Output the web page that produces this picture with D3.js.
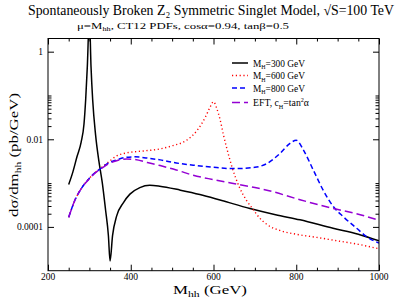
<!DOCTYPE html>
<html><head><meta charset="utf-8">
<script src="https://cdn.jsdelivr.net/npm/d3@7"></script>
<style>body{margin:0;background:#fff}svg{display:block}</style>
</head><body><svg id="c" width="399" height="300"></svg>
<script>
// ---- data ----
const massH300 = [250,260,270,280,287,291,295,300,304,308,315,323,331,339,346,350,356,366,382,398,422,446,470,520,567,620,688,750,809,889,950,1000];
const sigH300  = [9.3e-4,1.78e-3,3.98e-3,8.5e-3,2.24e-2,7.9e-2,0.45,6.3,0.45,7.9e-2,1.26e-2,3.16e-3,1.05e-3,2.5e-4,6.3e-5,1.66e-5,6.3e-5,1.78e-4,3.55e-4,5.6e-4,7.9e-4,8.9e-4,8.5e-4,6.9e-4,5.5e-4,4.0e-4,2.63e-4,1.9e-4,1.45e-4,9.3e-5,6.8e-5,4.8e-5];
const massH600 = [250,266,282,298,314,330,346,366,390,430,470,500,535,560,580,590,600,608,616,624,632,645,662,680,694,712,730,760,800,850,900,950,1000];
const sigH600  = [1.66e-4,4.27e-4,7.9e-4,1.23e-3,1.74e-3,2.29e-3,3.02e-3,4.17e-3,4.9e-3,5.4e-3,6.0e-3,7.1e-3,9.5e-3,1.58e-2,3.16e-2,5.0e-2,7.2e-2,5.0e-2,2.8e-2,1.26e-2,6.3e-3,2.29e-3,8.3e-4,4.0e-4,2.63e-4,1.58e-4,1.12e-4,8.3e-5,6.8e-5,5.75e-5,4.8e-5,4.0e-5,3.16e-5];
const massH800 = [250,266,282,298,314,330,346,366,390,410,440,471,510,551,600,648,700,730,761,785,800,817,841,865,890,914,946,970,1000];
const sigH800  = [1.66e-4,4.27e-4,7.9e-4,1.23e-3,1.74e-3,2.24e-3,2.88e-3,3.39e-3,3.89e-3,3.98e-3,3.72e-3,3.39e-3,2.88e-3,2.57e-3,2.29e-3,2.14e-3,2.29e-3,2.82e-3,4.79e-3,8.1e-3,9.5e-3,5.75e-3,2.0e-3,6.9e-4,2.88e-4,1.7e-4,9.3e-5,6.0e-5,4.27e-5];
const massEFT  = [250,266,282,298,314,330,346,366,390,410,440,471,510,551,600,648,700,729,809,890,950,1000];
const sigEFT   = [1.66e-4,4.27e-4,7.9e-4,1.2e-3,1.7e-3,2.19e-3,2.75e-3,3.24e-3,3.55e-3,3.47e-3,2.95e-3,2.51e-3,2.0e-3,1.51e-3,1.2e-3,9.8e-4,7.9e-4,6.9e-4,4.17e-4,2.63e-4,1.95e-4,1.41e-4];
const xTickLabels = [200,400,600,800,1000];
const yTickLabels = [1,0.01,0.0001];
const yTickText = ["1","0.01","0.0001"];
const legendNames = ["300","600","800","EFT"];

// ---- layout ----
const FONT='"Liberation Serif","Times New Roman",Tinos,"Noto Serif","DejaVu Serif",Times,serif';
const L=48,R=379,T=38.5,B=270.7;
const svg=d3.select("#c").attr("font-family",FONT);
const x=d3.scaleLinear().domain([200,1000]).range([L,R]);
const y=d3.scaleLog().domain([1e-5,2]).range([B,T]);

svg.append("defs").append("clipPath").attr("id","clip").append("rect")
  .attr("x",L).attr("y",T).attr("width",R-L).attr("height",B-T);

const series=[
  {m:massH300,v:sigH300,color:"#000",dash:null,w:1.5},
  {m:massH600,v:sigH600,color:"#ff0000",dash:"1.2,2.6",w:1.4},
  {m:massH800,v:sigH800,color:"#0000ff",dash:"5,3",w:1.5},
  {m:massEFT,v:sigEFT,color:"#9400d3",dash:"8,4",w:1.5}
];
const line=d3.line().curve(d3.curveMonotoneX);
const g=svg.append("g").attr("clip-path","url(#clip)");
series.forEach(s=>{
  g.append("path").attr("d",line(s.m.map((m,i)=>[x(m),y(s.v[i])])))
   .attr("fill","none").attr("stroke",s.color).attr("stroke-width",s.w)
   .attr("stroke-dasharray",s.dash);
});

// axes (ticks inward, mirrored)
const xMinor=d3.range(250,1000,50).filter(v=>v%200!==0);
const yMinor=[];[1e-4,1e-2].forEach(d=>{for(let k=2;k<=10;k++)yMinor.push(k*d);});
function ax(gen,tr){const a=svg.append("g").attr("transform",tr).call(gen);a.select(".domain").remove();a.selectAll("line").attr("stroke","#000");return a;}
ax(d3.axisBottom(x).tickValues(xTickLabels).tickSize(-6).tickFormat(""),`translate(0,${B})`);
ax(d3.axisBottom(x).tickValues(xMinor).tickSize(-3).tickFormat(""),`translate(0,${B})`);
ax(d3.axisTop(x).tickValues(xTickLabels).tickSize(-6).tickFormat(""),`translate(0,${T})`);
ax(d3.axisTop(x).tickValues(xMinor).tickSize(-3).tickFormat(""),`translate(0,${T})`);
ax(d3.axisLeft(y).tickValues(yTickLabels).tickSize(-6).tickFormat(""),`translate(${L},0)`);
ax(d3.axisLeft(y).tickValues(yMinor).tickSize(-3.5).tickFormat(""),`translate(${L},0)`);
ax(d3.axisRight(y).tickValues(yTickLabels).tickSize(-6).tickFormat(""),`translate(${R},0)`);
ax(d3.axisRight(y).tickValues(yMinor).tickSize(-3.5).tickFormat(""),`translate(${R},0)`);
svg.append("rect").attr("x",L).attr("y",T).attr("width",R-L).attr("height",B-T)
  .attr("fill","none").attr("stroke","#000").attr("stroke-width",1);

function txt(){return svg.append("text").attr("font-family",FONT).attr("fill","#000");}
// tick labels
xTickLabels.forEach(d=>txt().attr("x",x(d)).attr("y",B+9).attr("text-anchor","middle").attr("font-size",9.5).text(d));
yTickLabels.forEach((d,i)=>txt().attr("x",L-5).attr("y",y(d)+3.5).attr("text-anchor","end").attr("font-size",9.5).text(yTickText[i]));

// titles
txt().attr("x",28).attr("y",15).attr("font-size",14)
  .attr("textLength",366).attr("lengthAdjust","spacingAndGlyphs")
  .text("Spontaneously Broken Z\u2082 Symmetric Singlet Model, \u221AS=100 TeV");
const st=txt().attr("x",77).attr("y",29).attr("font-size",8.5)
  .attr("textLength",212).attr("lengthAdjust","spacingAndGlyphs");
st.append("tspan").text("\u03BC=M");
st.append("tspan").attr("font-size",5.5).attr("dy",2).text("hh");
st.append("tspan").attr("dy",-2).text(", CT12 PDFs, cos\u03B1=0.94, tan\u03B2=0.5");
const xl=txt().attr("x",173).attr("y",293.5).attr("font-size",13)
  .attr("textLength",74).attr("lengthAdjust","spacingAndGlyphs");
xl.append("tspan").text("M");
xl.append("tspan").attr("font-size",9).attr("dy",3).text("hh");
xl.append("tspan").attr("dy",-3).text(" (GeV)");
const yl=txt().attr("transform","translate(18,155) rotate(-90)").attr("text-anchor","middle").attr("font-size",13)
  .attr("textLength",124).attr("lengthAdjust","spacingAndGlyphs");
yl.append("tspan").text("d\u03C3/dm");
yl.append("tspan").attr("font-size",9).attr("dy",3).text("hh");
yl.append("tspan").attr("dy",-3).text(" (pb/GeV)");

// legend
const ly=[63,75.5,88,102.5];
series.forEach((s,i)=>{
  svg.append("line").attr("x1",232).attr("x2",248).attr("y1",ly[i]).attr("y2",ly[i])
    .attr("stroke",s.color).attr("stroke-width",s.w).attr("stroke-dasharray",s.dash);
  const tx=txt().attr("x",253).attr("y",ly[i]+3.5).attr("font-size",9.5);
  if(legendNames[i]!=="EFT"){
    tx.attr("textLength",52).attr("lengthAdjust","spacingAndGlyphs");
    tx.append("tspan").text("M");
    tx.append("tspan").attr("font-size",6).attr("dy",2.5).text("H");
    tx.append("tspan").attr("dy",-2.5).text("="+legendNames[i]+" GeV");
  } else {
    tx.attr("textLength",56).attr("lengthAdjust","spacingAndGlyphs");
    tx.append("tspan").text("EFT, c");
    tx.append("tspan").attr("font-size",6).attr("dy",2.5).text("H");
    tx.append("tspan").attr("dy",-2.5).text("=tan");
    tx.append("tspan").attr("font-size",6).attr("dy",-4).text("2");
    tx.append("tspan").attr("dy",4).text("\u03B1");
  }
});
</script></body></html>
